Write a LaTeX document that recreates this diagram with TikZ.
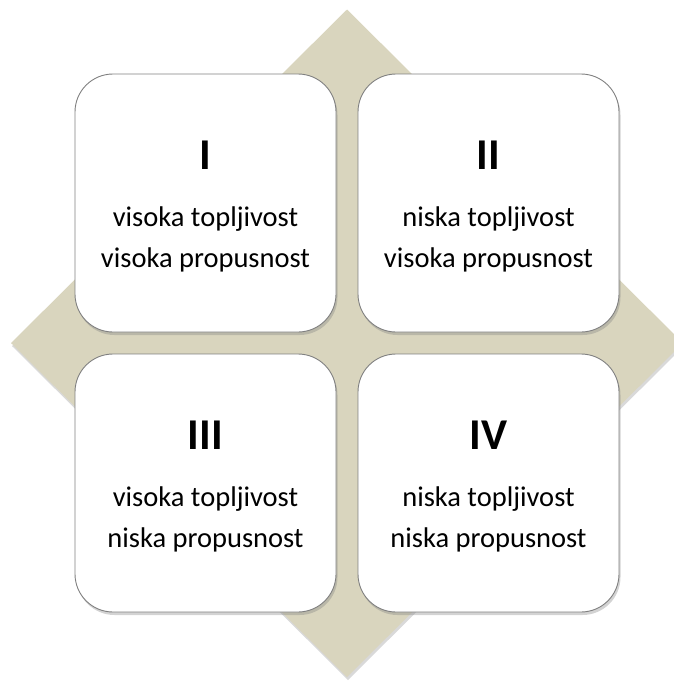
\documentclass[tikz,border=0pt]{standalone}
\usepackage{fontspec}
\setmainfont{Carlito}
\usetikzlibrary{calc,shadows}
\definecolor{sand}{RGB}{217,213,190}
\definecolor{rim}{RGB}{128,128,128}

\begin{document}
\begin{tikzpicture}[x=1pt,y=-1pt,
    quad/.style={draw=rim,line width=0.9pt,fill=white,rounded corners=38pt,
      minimum width=261pt,minimum height=258pt,
      drop shadow={shadow xshift=1.5pt,shadow yshift=-3pt,opacity=0.35}},
    numeral/.style={font=\fontsize{44}{50}\selectfont\bfseries},
    label/.style={font=\fontsize{28.5}{41}\selectfont,align=center}]
    \useasboundingbox(0,0)rectangle(673,681);
    % background diamond
    \fill[sand,drop shadow={shadow xshift=1pt,shadow yshift=-3pt,opacity=0.3}]
      (347,9.5)--(683,343)--(347,677)--(11,343)--cycle;
    % the four fields
    \node[quad](q1)at(205.5,203){};
    \node[quad](q2)at(488.5,203){};
    \node[quad](q3)at(205.5,483){};
    \node[quad](q4)at(488.5,483){};
    \node[numeral](n1)at($(q1.center)+(0,-48)$){I};
    \node[numeral](n2)at($(q2.center)+(0,-48)$){II};
    \node[numeral](n3)at($(q3.center)+(0,-48)$){III};
    \node[numeral](n4)at($(q4.center)+(0,-48)$){IV};
    \node[label](t1)at($(q1.center)+(0,36)$){visoka topljivost\\visoka propusnost};
    \node[label](t2)at($(q2.center)+(0,36)$){niska topljivost\\visoka propusnost};
    \node[label](t3)at($(q3.center)+(0,36)$){visoka topljivost\\niska propusnost};
    \node[label](t4)at($(q4.center)+(0,36)$){niska topljivost\\niska propusnost};
\end{tikzpicture}
\end{document}
